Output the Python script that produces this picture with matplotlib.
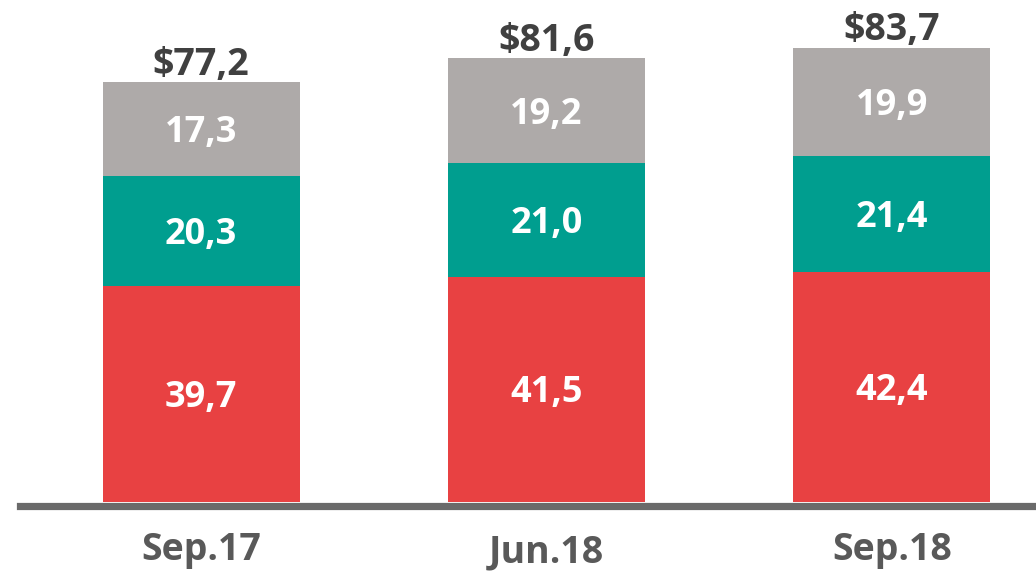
import numpy as np
import matplotlib.pyplot as plt

# data
categories = ["Sep.17", "Jun.18", "Sep.18"]
bottom_vals = [39.7, 41.5, 42.4]   # red
middle_vals = [20.3, 21.0, 21.4]   # teal
top_vals = [17.3, 19.2, 19.9]      # gray
totals = ["$77,2", "$81,6", "$83,7"]

red = "#E84142"
teal = "#009E8F"
gray = "#AEAAA9"

plt.rcParams['font.family'] = ['Open Sans', 'DejaVu Sans']

fig = plt.figure(figsize=(10.36, 5.73), dpi=100)
ax = fig.add_axes([0, 0, 1, 1])

x = np.arange(len(categories))
b = np.array(bottom_vals)
m = np.array(middle_vals)
t = np.array(top_vals)
w = 0.57

ax.bar(x, b, w, color=red)
ax.bar(x, m, w, bottom=b, color=teal)
ax.bar(x, t, w, bottom=b + m, color=gray)

fs = 26
for i in range(len(x)):
    segs = [(0, bottom_vals[i]), (b[i], middle_vals[i]), (b[i] + m[i], top_vals[i])]
    for base, v in segs:
        ax.text(x[i], base + v / 2 - 2.4, f"{v:.1f}".replace(".", ","),
                ha='center', va='baseline', color='white', fontsize=fs, fontweight='bold')
    ax.text(x[i], b[i] + m[i] + t[i] + 1.3, totals[i],
            ha='center', va='baseline', color='#404040', fontsize=27, fontweight='bold')

# category labels (middle one sits a little lower)
label_y = [-10.6, -11.2, -10.6]
for i, c in enumerate(categories):
    ax.text(x[i], label_y[i], c, ha='center', va='baseline',
            color='#595959', fontsize=27, fontweight='bold')

# baseline
ax.axhline(-0.7, xmin=0.019, xmax=1, color='#6A6A6A', linewidth=5.2)

ax.set_xlim(-0.582, 2.417)
ax.set_ylim(-13.08, 92.45)
ax.axis('off')

fig.savefig("out.png", dpi=100)
